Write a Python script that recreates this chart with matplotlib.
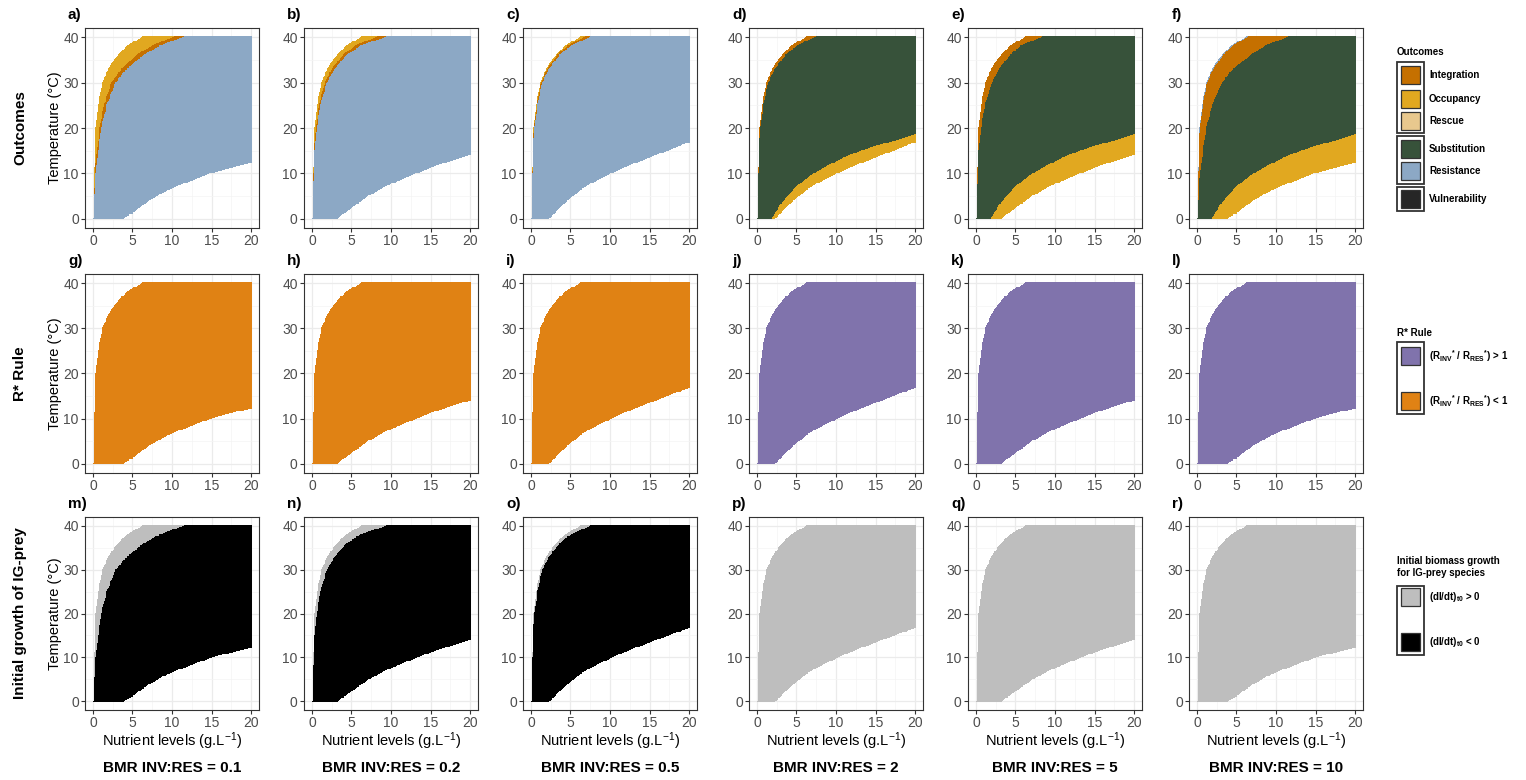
import numpy as np
import matplotlib

matplotlib.use("Agg")
import matplotlib.pyplot as plt
from matplotlib.colors import ListedColormap, BoundaryNorm
from matplotlib.patches import Rectangle

plt.rcParams["font.family"] = ["Liberation Sans", "DejaVu Sans"]
plt.rcParams["mathtext.fontset"] = "custom"
plt.rcParams["mathtext.rm"] = "Liberation Sans"
plt.rcParams["mathtext.bf"] = "Liberation Sans:bold"
plt.rcParams["mathtext.it"] = "Liberation Sans:italic"

W, H = 1526, 780

BMR_RATIOS = ["0.1", "0.2", "0.5", "2", "5", "10"]
PANEL_TAGS = "abcdefghijklmnopqr"
ROW_TITLES = ["Outcomes", "R* Rule", "Initial growth of IG-prey"]

# left-hand boundaries: nutrient level (g/L) of the curve at each temperature node
LEFT_T = [0, 5, 10, 15, 20, 25, 30, 33, 36, 38, 40]
LEFT_OUTER = [0.0, 0.03, 0.08, 0.16, 0.3, 0.6, 1.15, 1.9, 3.1, 4.3, 6.2]
LEFT_OCC_01 = [0.0, 0.05, 0.2, 0.45, 0.8, 1.35, 2.3, 3.6, 5.5, 7.4, 10.2]
LEFT_INT_01 = [0.0, 0.08, 0.3, 0.6, 1.0, 1.7, 2.8, 4.3, 6.4, 8.4, 11.5]
LEFT_OCC_02 = [0.0, 0.03, 0.1, 0.24, 0.45, 0.85, 1.6, 2.5, 3.9, 5.4, 8.2]
LEFT_INT_02 = [0.0, 0.04, 0.13, 0.3, 0.55, 1.0, 1.85, 2.85, 4.4, 6.1, 9.4]
LEFT_OCC_05 = [0.0, 0.03, 0.09, 0.18, 0.34, 0.67, 1.25, 2.05, 3.3, 4.6, 6.8]
LEFT_INT_05 = [0.0, 0.03, 0.1, 0.2, 0.38, 0.75, 1.4, 2.25, 3.6, 5.0, 7.5]
LEFT_INT_2 = [0.0, 0.03, 0.1, 0.2, 0.38, 0.75, 1.4, 2.25, 3.6, 5.0, 7.4]
LEFT_INT_5 = [0.0, 0.05, 0.15, 0.3, 0.6, 1.1, 2.0, 2.9, 4.3, 5.6, 8.4]
LEFT_RES_10 = [0.0, 0.03, 0.09, 0.18, 0.34, 0.66, 1.25, 2.05, 3.3, 4.5, 6.4]
LEFT_INT_10 = [0.0, 0.12, 0.35, 0.7, 1.15, 1.9, 3.1, 4.6, 6.8, 8.6, 11.5]

# lower boundaries: temperature (°C) of the curve at each nutrient node
BOT_01_N = [0, 3.9, 5, 7.1, 9.2, 11.3, 13.4, 15.5, 17.6, 20]
BOT_01_T = [0, 0, 1.3, 4.0, 6.1, 7.6, 9.0, 10.3, 11.2, 12.2]
BOT_02_N = [0, 3.2, 5, 7.1, 9.2, 11.3, 13.4, 15.5, 17.6, 20]
BOT_02_T = [0, 0, 2.4, 5.0, 7.0, 8.6, 10.1, 11.5, 12.7, 14.0]
BOT_05_N = [0, 2.3, 3.5, 4.6, 6.7, 8.8, 10.9, 13.0, 15.2, 17.3, 20]
BOT_05_T = [0, 0, 2.2, 4.0, 6.9, 8.8, 10.6, 12.1, 13.6, 15.0, 16.8]
BOT_SUB_N = [0, 1.8, 3, 5, 7, 9, 11, 13, 15, 17.5, 20]
BOT_SUB_T = [0, 0, 3.4, 7.2, 9.8, 11.8, 13.5, 14.9, 16.0, 17.2, 18.5]

COL_BOTTOM = [(BOT_01_N, BOT_01_T), (BOT_02_N, BOT_02_T), (BOT_05_N, BOT_05_T),
              (BOT_05_N, BOT_05_T), (BOT_02_N, BOT_02_T), (BOT_01_N, BOT_01_T)]
COL_LEFT_OCC = [LEFT_OCC_01, LEFT_OCC_02, LEFT_OCC_05, None, None, None]
COL_LEFT_INT = [LEFT_INT_01, LEFT_INT_02, LEFT_INT_05, LEFT_INT_2, LEFT_INT_5, LEFT_INT_10]

# category codes -> colours
OUTCOME_LABELS = ["Integration", "Occupancy", "Rescue", "Substitution", "Resistance", "Vulnerability"]
OUTCOME_COLORS = ["#C57000", "#E1A820", "#E8C88E", "#37523A", "#8CA8C5", "#262626"]
RSTAR_COLORS = ["#8073AC", "#E08214"]
GROWTH_COLORS = ["#BEBEBE", "#000000"]
ALL_COLORS = OUTCOME_COLORS + RSTAR_COLORS + GROWTH_COLORS
INT, OCC, RSC, SUB, RES, VUL, RGT, RLT, GPOS, GNEG = range(10)

N_STEP, T_STEP = 0.1, 0.2
N_GRID = np.arange(0, 20 + 1e-9, N_STEP)
T_GRID = np.arange(0, 40 + 1e-9, T_STEP)
NN, TT = np.meshgrid(N_GRID, T_GRID)


def left_of(curve):
    return NN < np.interp(TT, LEFT_T, curve)


def below(cn, ct):
    return TT < np.interp(NN, cn, ct)


def panel_grid(row, col):
    bn, bt = COL_BOTTOM[col]
    outside = left_of(LEFT_OUTER) | below(bn, bt)
    g = np.zeros(NN.shape, dtype=float)
    if row == 0:
        if col < 3:
            g[:] = RES
            g[left_of(COL_LEFT_INT[col])] = INT
            g[left_of(COL_LEFT_OCC[col])] = OCC
        else:
            g[:] = SUB
            g[below(BOT_SUB_N, BOT_SUB_T)] = OCC
            g[left_of(COL_LEFT_INT[col])] = INT
            if col == 5:
                g[left_of(LEFT_RES_10)] = RES
    elif row == 1:
        g[:] = RLT if col < 3 else RGT
    else:
        if col < 3:
            g[:] = GNEG
            g[left_of(COL_LEFT_INT[col])] = GPOS
        else:
            g[:] = GPOS
    return np.ma.masked_where(outside, g)


cmap = ListedColormap(ALL_COLORS)
norm = BoundaryNorm(np.arange(-0.5, len(ALL_COLORS) + 0.5), cmap.N)

COL_X0 = [85, 304, 523, 749, 968, 1189]
PANEL_W = 174
ROW_Y = [(28, 228), (274, 473), (517, 710)]

fig = plt.figure(figsize=(W / 100, H / 100), dpi=100)
fig.patch.set_facecolor("white")

for r in range(3):
    for c in range(6):
        y0, y1 = ROW_Y[r]
        x0 = COL_X0[c]
        ax = fig.add_axes([x0 / W, 1 - y1 / H, PANEL_W / W, (y1 - y0) / H])
        ax.set_axisbelow(True)
        ax.imshow(panel_grid(r, c), cmap=cmap, norm=norm, origin="lower", aspect="auto",
                  interpolation="nearest", zorder=1,
                  extent=[-N_STEP / 2, 20 + N_STEP / 2, -T_STEP / 2, 40 + T_STEP / 2])
        ax.set_xlim(-1, 21)
        ax.set_ylim(-2, 42)
        ax.set_xticks([0, 5, 10, 15, 20])
        ax.set_yticks([0, 10, 20, 30, 40])
        ax.set_xticks([2.5, 7.5, 12.5, 17.5], minor=True)
        ax.set_yticks([5, 15, 25, 35], minor=True)
        ax.grid(which="major", color="#EBEBEB", linewidth=0.9)
        ax.grid(which="minor", color="#F4F4F4", linewidth=0.5)
        ax.tick_params(which="major", length=3, width=0.8, color="#333333",
                       labelcolor="#4D4D4D", labelsize=10, pad=1.5)
        ax.tick_params(which="minor", length=0)
        for s in ax.spines.values():
            s.set_color("#333333")
            s.set_linewidth(0.8)
        fig.text((x0 - 17) / W, 1 - (y0 - 13) / H, PANEL_TAGS[r * 6 + c] + ")",
                 fontsize=11, fontweight="bold", ha="left", va="center")
        if c == 0:
            fig.text(55 / W, 1 - (y0 + y1) / 2 / H, "Temperature (°C)", rotation=90,
                     fontsize=10.5, ha="center", va="center")
            fig.text(20 / W, 1 - (y0 + y1) / 2 / H, ROW_TITLES[r], rotation=90,
                     fontsize=11, fontweight="bold", ha="center", va="center")
        if r == 2:
            cx = (x0 + PANEL_W / 2) / W
            fig.text(cx, 1 - 741 / H, "Nutrient levels (g.L$^{-1}$)", fontsize=10.5,
                     ha="center", va="center")
            fig.text(cx, 1 - 768 / H, "BMR INV:RES = " + BMR_RATIOS[c], fontsize=11,
                     fontweight="bold", ha="center", va="center")

# legends, drawn in pixel space
lg = fig.add_axes([0, 0, 1, 1], zorder=5)
lg.set_xlim(0, W)
lg.set_ylim(H, 0)
lg.axis("off")
lg.patch.set_alpha(0)

BOX_X, KEY_X, TXT_X = 1397, 1401, 1429


def box(y0, y1):
    lg.add_patch(Rectangle((BOX_X, y0), 27, y1 - y0, fill=False, ec="#333333", lw=1.3))


def key(yc, color, label):
    lg.add_patch(Rectangle((KEY_X, yc - 9), 19, 18, fc=color, ec="#333333", lw=0.9))
    lg.text(TXT_X, yc, label, fontsize=7, fontweight="bold", ha="left", va="center")


lg.text(BOX_X, 52, "Outcomes", fontsize=7, fontweight="bold", ha="left", va="center")
box(62, 133)
box(136, 184)
box(187, 211)
for yc, lab, colr in zip([75, 99, 121, 149, 171, 199], OUTCOME_LABELS, OUTCOME_COLORS):
    key(yc, colr, lab)

lg.text(BOX_X, 333, "R* Rule", fontsize=7, fontweight="bold", ha="left", va="center")
box(342, 414)
key(356, RSTAR_COLORS[0], r"$\mathbf{(R_{INV}{}^{*}\ /\ R_{RES}{}^{*})}$ > 1")
key(401, RSTAR_COLORS[1], r"$\mathbf{(R_{INV}{}^{*}\ /\ R_{RES}{}^{*})}$ < 1")

lg.text(BOX_X, 561, "Initial biomass growth", fontsize=7, fontweight="bold", ha="left", va="center")
lg.text(BOX_X, 573, "for IG-prey species", fontsize=7, fontweight="bold", ha="left", va="center")
box(586, 655)
key(597, GROWTH_COLORS[0], r"$\mathbf{(dI/dt)_{t0}}$ > 0")
key(642, GROWTH_COLORS[1], r"$\mathbf{(dI/dt)_{t0}}$ < 0")

fig.savefig("out.png", dpi=100, facecolor="white")
